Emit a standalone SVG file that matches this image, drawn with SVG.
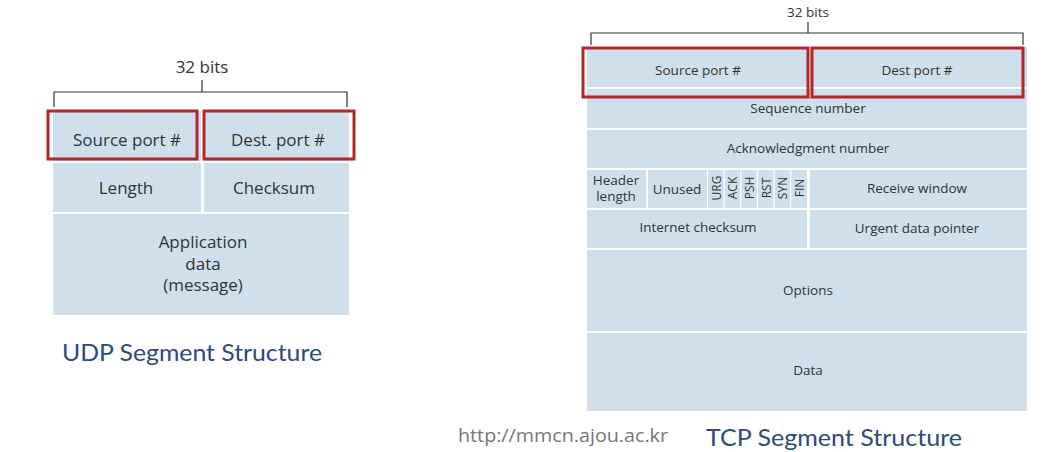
<svg xmlns="http://www.w3.org/2000/svg" width="1044" height="452" viewBox="0 0 1044 452">
<style>
.cell{fill:#cfe0ec}
.hl{fill:none;stroke:#b3262a;stroke-width:3}
.br{fill:none;stroke:#333;stroke-width:1.2}
.t{font-family:"Open Sans",sans-serif;fill:#333;text-anchor:middle;dominant-baseline:central}
.u{font-size:17px}
.s{font-size:13.5px}
.f{font-size:12px}
.title{font-family:Lato,"Open Sans",sans-serif;font-size:24px;fill:#2d4b78}
.url{font-family:"Open Sans",sans-serif;font-size:18px;fill:#777}
</style>
<rect width="1044" height="452" fill="#fff"/>
<!-- UDP -->
<g id="udp">
<g id="udp-bracket">
<text class="t u" x="202" y="66">32 bits</text>
<path class="br" d="M202 80V92M54 107V92H347V107"/>
</g>
<g id="udp-src"><rect class="cell" x="53" y="111" width="148" height="50"/><text class="t u" x="127" y="139">Source port #</text></g>
<g id="udp-dst"><rect class="cell" x="204" y="111" width="145" height="50"/><text class="t u" x="278" y="139">Dest. port #</text></g>
<g id="udp-len"><rect class="cell" x="53" y="163" width="148" height="49"/><text class="t u" x="126" y="187">Length</text></g>
<g id="udp-chk"><rect class="cell" x="204" y="163" width="145" height="49"/><text class="t u" x="274" y="187">Checksum</text></g>
<g id="udp-data"><rect class="cell" x="53" y="214" width="296" height="101"/>
<text class="t u" x="203" y="241">Application</text><text class="t u" x="203" y="263">data</text><text class="t u" x="203" y="284">(message)</text></g>
<rect class="hl" x="48" y="111" width="149" height="48"/>
<rect class="hl" x="204" y="111" width="150" height="48"/>
<text class="title" x="62" y="361" textLength="260" lengthAdjust="spacingAndGlyphs">UDP Segment Structure</text>
</g>
<!-- TCP -->
<g id="tcp">
<g id="tcp-bracket">
<text class="t s" x="808" y="12">32 bits</text>
<path class="br" d="M808 22V33M591 45V33H1023V45"/>
</g>
<g id="tcp-src"><rect class="cell" x="587" y="47" width="220" height="40"/><text class="t s" x="698" y="70">Source port #</text></g>
<g id="tcp-dst"><rect class="cell" x="810" y="47" width="217" height="40"/><text class="t s" x="917" y="70">Dest port #</text></g>
<g id="tcp-seq"><rect class="cell" x="587" y="89" width="440" height="39"/><text class="t s" x="808" y="108">Sequence number</text></g>
<g id="tcp-ack"><rect class="cell" x="587" y="130" width="440" height="38"/><text class="t s" x="808" y="148">Acknowledgment number</text></g>
<g id="tcp-hlen"><rect class="cell" x="587" y="170" width="59" height="38"/><text class="t s" x="616" y="180">Header</text><text class="t s" x="616" y="196">length</text></g>
<g id="tcp-unused"><rect class="cell" x="648" y="170" width="59" height="38"/><text class="t s" x="677" y="189">Unused</text></g>
<g id="tcp-flags">
<rect class="cell" x="708" y="170" width="15.5" height="38"/>
<rect class="cell" x="724.7" y="170" width="15.5" height="38"/>
<rect class="cell" x="741.3" y="170" width="15.5" height="38"/>
<rect class="cell" x="758" y="170" width="15.5" height="38"/>
<rect class="cell" x="774.7" y="170" width="15.5" height="38"/>
<rect class="cell" x="791.3" y="170" width="15.7" height="38"/>
<text class="t f" transform="translate(716,188) rotate(-90)">URG</text>
<text class="t f" transform="translate(732.5,188) rotate(-90)">ACK</text>
<text class="t f" transform="translate(749,188) rotate(-90)">PSH</text>
<text class="t f" transform="translate(766,188) rotate(-90)">RST</text>
<text class="t f" transform="translate(782.5,188) rotate(-90)">SYN</text>
<text class="t f" transform="translate(799,188) rotate(-90)">FIN</text>
</g>
<g id="tcp-rwnd"><rect class="cell" x="810" y="170" width="217" height="38"/><text class="t s" x="917" y="188">Receive window</text></g>
<g id="tcp-csum"><rect class="cell" x="587" y="210" width="220" height="38"/><text class="t s" x="698" y="227">Internet checksum</text></g>
<g id="tcp-urg"><rect class="cell" x="810" y="210" width="217" height="38"/><text class="t s" x="917" y="228">Urgent data pointer</text></g>
<g id="tcp-opt"><rect class="cell" x="587" y="250" width="440" height="81"/><text class="t s" x="808" y="290">Options</text></g>
<g id="tcp-data"><rect class="cell" x="587" y="333" width="440" height="78"/><text class="t s" x="808" y="370">Data</text></g>
<rect class="hl" x="583" y="48" width="225" height="49"/>
<rect class="hl" x="812" y="48" width="211" height="49"/>
<text class="title" x="706" y="446" textLength="256" lengthAdjust="spacingAndGlyphs">TCP Segment Structure</text>
</g>
<text class="url" x="458" y="442" textLength="210" lengthAdjust="spacingAndGlyphs">http://mmcn.ajou.ac.kr</text>
</svg>
